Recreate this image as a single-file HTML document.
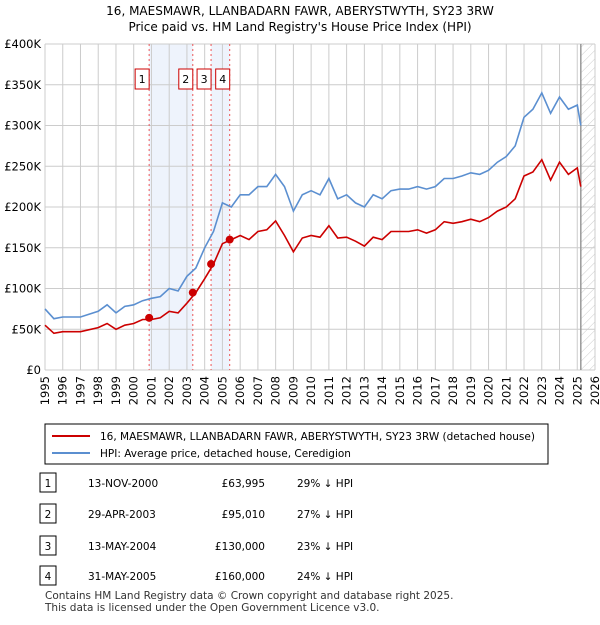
<!DOCTYPE html>
<html><head><meta charset="utf-8"><style>
body{margin:0;background:#fff;font-family:"Liberation Sans","DejaVu Sans",sans-serif;}
svg text{font-family:"DejaVu Sans","Liberation Sans",sans-serif;}
</style></head><body>
<svg id="chart" width="600" height="620" viewBox="0 0 600 620" xmlns="http://www.w3.org/2000/svg">
<defs><pattern id="hatch" width="6" height="6" patternUnits="userSpaceOnUse" patternTransform="rotate(45)"><line x1="0" y1="0" x2="0" y2="6" stroke="#ccc" stroke-width="1"/></pattern></defs>
<text x="300" y="15" text-anchor="middle" font-size="12" fill="#000">16, MAESMAWR, LLANBADARN FAWR, ABERYSTWYTH, SY23 3RW</text>
<text x="300" y="31" text-anchor="middle" font-size="12" fill="#000">Price paid vs. HM Land Registry's House Price Index (HPI)</text>
<g id="grid"></g><g id="marks"></g><g id="axes"></g>
<rect x="45" y="424" width="503" height="40" fill="#fff" stroke="#000"/>
<line x1="52" y1="436" x2="90" y2="436" stroke="#cc0000" stroke-width="2"/>
<text x="100" y="440" font-size="10.5">16, MAESMAWR, LLANBADARN FAWR, ABERYSTWYTH, SY23 3RW (detached house)</text>
<line x1="52" y1="453" x2="90" y2="453" stroke="#5b8fd0" stroke-width="2"/>
<text x="100" y="457" font-size="10.5">HPI: Average price, detached house, Ceredigion</text>
<g id="table" font-size="10.5"></g>
<text x="45" y="599" font-size="10.5" fill="#333">Contains HM Land Registry data © Crown copyright and database right 2025.</text>
<text x="45" y="611" font-size="10.5" fill="#333">This data is licensed under the Open Government Licence v3.0.</text>
</svg>
<script>
const hpiYears=[1995,1995.5,1996,1997,1998,1998.5,1999,1999.5,2000,2000.5,2001,2001.5,2002,2002.5,2003,2003.5,2004,2004.5,2005,2005.5,2006,2006.5,2007,2007.5,2008,2008.5,2009,2009.5,2010,2010.5,2011,2011.5,2012,2012.5,2013,2013.5,2014,2014.5,2015,2015.5,2016,2016.5,2017,2017.5,2018,2018.5,2019,2019.5,2020,2020.5,2021,2021.5,2022,2022.5,2023,2023.5,2024,2024.5,2025,2025.2];
const hpiValues=[75,63,65,65,72,80,70,78,80,85,88,90,100,97,115,125,150,170,205,200,215,215,225,225,240,225,195,215,220,215,235,210,215,205,200,215,210,220,222,222,225,222,225,235,235,238,242,240,245,255,262,275,310,320,340,315,335,320,325,300];
const propValues=[55,45,47,47,52,57,50,55,57,62,62,64,72,70,82,95,112,130,155,160,165,160,170,172,183,165,145,162,165,163,177,162,163,158,152,163,160,170,170,170,172,168,172,182,180,182,185,182,187,195,200,210,238,243,258,233,255,240,248,225];
const saleDates=[2000.87,2003.33,2004.36,2005.41];
const salePrices=[63.995,95.01,130,160];
const saleLabels=["1","2","3","4"];
const saleDateText=["13-NOV-2000","29-APR-2003","13-MAY-2004","31-MAY-2005"];
const salePriceText=["£63,995","£95,010","£130,000","£160,000"];
const saleDiffText=["29% ↓ HPI","27% ↓ HPI","23% ↓ HPI","24% ↓ HPI"];
const yTicks=[0,50,100,150,200,250,300,350,400];
const yTickLabels=["£0","£50K","£100K","£150K","£200K","£250K","£300K","£350K","£400K"];
const xTicks=[1995,1996,1997,1998,1999,2000,2001,2002,2003,2004,2005,2006,2007,2008,2009,2010,2011,2012,2013,2014,2015,2016,2017,2018,2019,2020,2021,2022,2023,2024,2025,2026];
const dataEnd=2025.2;
const NS="http://www.w3.org/2000/svg";
const L=45,R=595,T=44,B=370;
const xs=y=>L+(y-1995)/31*(R-L);
const ys=v=>B-v/400*(B-T);
function mk(tag,attrs,parent,txt){const e=document.createElementNS(NS,tag);for(const k in attrs)e.setAttribute(k,attrs[k]);if(txt!==undefined)e.textContent=txt;document.getElementById(parent).appendChild(e);return e;}
// shaded bands
let e;
e=mk('rect',{x:xs(saleDates[0]),y:T,width:xs(saleDates[1])-xs(saleDates[0]),height:B-T,fill:'#eef3fc'},'grid');


e=mk('rect',{x:xs(saleDates[2]),y:T,width:xs(saleDates[3])-xs(saleDates[2]),height:B-T,fill:'#eef3fc'},'grid');


yTicks.forEach((v,i)=>{
 e=mk('line',{x1:L,x2:R,y1:ys(v),y2:ys(v),stroke:'#ccc'},'grid');
 
 
 e=mk('text',{x:L-4,y:ys(v)+4,'text-anchor':'end','font-size':'11.5'},'axes',yTickLabels[i]);
 
 
});
xTicks.forEach(y=>{
 e=mk('line',{x1:xs(y),x2:xs(y),y1:T,y2:B,stroke:'#ccc'},'grid');
 
 
 e=mk('text',{x:xs(y)+4,y:B+6,'text-anchor':'end','font-size':'11.5',transform:`rotate(-90 ${xs(y)+4} ${B+6})`},'axes',String(y));
 
 
});
e=mk('rect',{x:xs(dataEnd),y:T,width:R-xs(dataEnd),height:B-T,fill:'url(#hatch)'},'grid');


e=mk('line',{x1:xs(dataEnd),x2:xs(dataEnd),y1:T,y2:B,stroke:'#999',"stroke-width":1.5},'grid');


saleDates.forEach((d,i)=>{
 e=mk('line',{x1:xs(d),x2:xs(d),y1:T,y2:B,stroke:'#e55','stroke-dasharray':'2,3'},'grid');
 
 
 e=mk('rect',{x:xs(d)-14,y:69,width:14,height:20,fill:'#fff',stroke:'#c00'},'marks');
 
 
 e=mk('text',{x:xs(d)-7,y:83,'text-anchor':'middle','font-size':'11'},'marks',saleLabels[i]);
 
 
});
const pts=a=>hpiYears.map((y,i)=>xs(y).toFixed(1)+','+ys(a[i]).toFixed(1)).join(' ');
e=mk('polyline',{points:pts(hpiValues),fill:'none',stroke:'#5b8fd0','stroke-width':1.6},'marks');


e=mk('polyline',{points:pts(propValues),fill:'none',stroke:'#cc0000','stroke-width':1.6},'marks');


saleDates.forEach((d,i)=>{
 e=mk('circle',{cx:xs(d),cy:ys(salePrices[i]),r:4,fill:'#cc0000'},'marks');
 
 
});
const rowY=[483,514,546,576];
saleLabels.forEach((s,i)=>{
 const y=rowY[i];
 e=mk('rect',{x:40,y:y-10,width:16,height:19,fill:'#fff',stroke:'#000'},'table');
 
 
 e=mk('text',{x:48,y:y+4,'text-anchor':'middle'},'table',s);
 
 
 e=mk('text',{x:88,y:y+4},'table',saleDateText[i]);
 
 
 e=mk('text',{x:265,y:y+4,'text-anchor':'end'},'table',salePriceText[i]);
 
 
 e=mk('text',{x:297,y:y+4},'table',saleDiffText[i]);
 
 
});
</script>
</body></html>
